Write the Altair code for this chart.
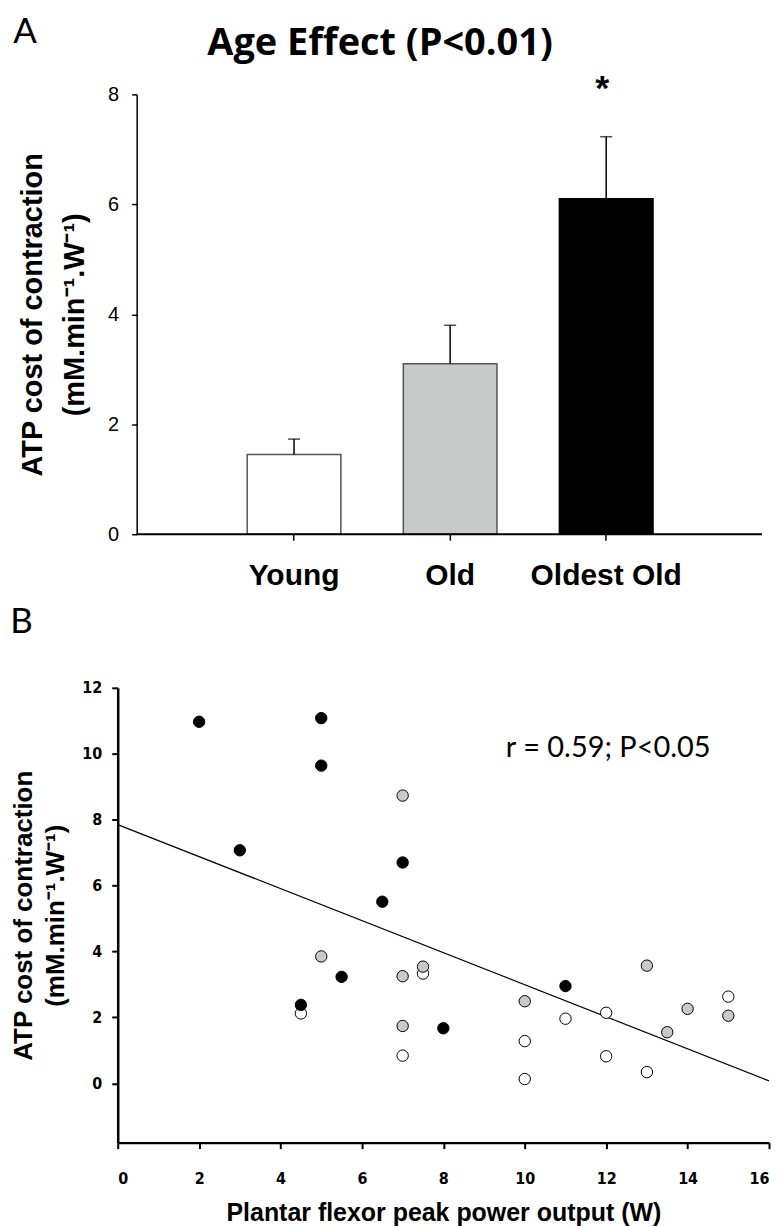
import altair as alt
import pandas as pd

# ---------------- data ----------------
groups = ["Young", "Old", "Oldest Old"]
atp_mean = [1.45, 3.10, 6.10]
atp_sem = [0.28, 0.70, 1.13]
star_marks = ["", "", "*"]
bar_fills = ["#ffffff", "#c8c9c9", "#000000"]
bar_strokes = ["#555555", "#555555", "#000000"]

power_oldest = [2, 5, 5, 3, 7, 6.5, 5.5, 4.5, 8, 11]
atp_oldest = [10.97, 11.08, 9.64, 7.07, 6.70, 5.51, 3.23, 2.38, 1.67, 2.95]
power_old = [7, 5, 7.5, 7, 7, 10, 13, 13.5, 14, 15]
atp_old = [8.73, 3.85, 3.54, 3.25, 1.74, 2.49, 3.57, 1.55, 2.26, 2.05]
power_young = [7.5, 4.5, 7, 10, 10, 11, 12, 12, 13, 15]
atp_young = [3.33, 2.12, 0.84, 1.28, 0.13, 1.96, 2.14, 0.82, 0.34, 2.63]
point_fills = ["#ffffff", "#c8c8c8", "#000000"]

fit_intercept = 7.85
fit_slope = -0.486
fit_x = [0, 16]

ann_text = "r = 0.59; P<0.05"
ann_x, ann_y = 12.05, 10.18

ytitle = ["ATP cost of contraction", "(mM.min\u207b\u00b9.W\u207b\u00b9)"]

ARIAL = "Liberation Sans"
NARROW = "Liberation Sans Narrow, DejaVu Sans Condensed, Liberation Sans"
CAL = "Lato"

# ---------------- panel A ----------------
W_A, H_A = 646, 441
dfA = pd.DataFrame({
    "group": groups,
    "mean": atp_mean,
    "upper": [m + s for m, s in zip(atp_mean, atp_sem)],
    "star": star_marks,
})

xsA = alt.Scale(domain=groups, paddingInner=0.4, paddingOuter=0.764, align=0.543)
ysA = alt.Scale(domain=[0, 8], nice=False)

axA_x = alt.Axis(title=None, domain=False, ticks=True, tickSize=6, tickColor="black",
                 tickWidth=1.5, labelFont=ARIAL, labelFontSize=30, labelFontWeight="bold",
                 labelColor="black", labelPadding=20, labelAngle=0)
axA_y = alt.Axis(title=ytitle, values=[0, 2, 4, 6, 8], format="d", offset=-19, grid=False,
                 domainColor="black", domainWidth=1.5, tickColor="black", tickWidth=1.5,
                 tickSize=5, labelFont=ARIAL, labelFontSize=20, labelColor="black",
                 labelPadding=13, titleFont=ARIAL, titleFontSize=29, titleFontWeight="bold",
                 titleColor="black", titleLineHeight=42, titlePadding=18)

baseA = alt.Chart(dfA).encode(
    x=alt.X("group:N", scale=xsA, axis=axA_x, sort=groups)
)
bars = baseA.mark_bar(strokeWidth=1.5).encode(
    y=alt.Y("mean:Q", scale=ysA, axis=axA_y),
    fill=alt.Fill("group:N", scale=alt.Scale(domain=groups, range=bar_fills), legend=None),
    stroke=alt.Stroke("group:N", scale=alt.Scale(domain=groups, range=bar_strokes), legend=None),
)
err = baseA.mark_rule(color="black", strokeWidth=1.5).encode(y="mean:Q", y2="upper:Q")
cap = baseA.mark_tick(color="black", size=12, thickness=1.5).encode(y="upper:Q")
star = baseA.transform_filter("datum.star != ''").mark_text(
    font=ARIAL, fontSize=36, fontWeight="bold", color="black", baseline="middle", dy=-48, dx=-4
).encode(y="upper:Q", text="star:N")

axis_line = alt.Chart(pd.DataFrame({"t": [""]})).mark_rule(color="black", strokeWidth=2).encode(
    y=alt.datum(0), x=alt.value(19), x2=alt.value(W_A)
)
titleA = alt.Chart(pd.DataFrame({"t": ["Age Effect (P<0.01)"]})).mark_text(
    font="Open Sans", fontSize=38, fontWeight="bold", color="black", align="center",
    baseline="alphabetic"
).encode(x=alt.value(380 - 117), y=alt.value(57 - 96), text="t:N")
letterA = alt.Chart(pd.DataFrame({"t": ["A"]})).mark_text(
    font=CAL, fontSize=35, color="black", align="center", baseline="alphabetic"
).encode(x=alt.value(24 - 117), y=alt.value(-52), text="t:N")

panelA = alt.layer(bars, err, cap, star, axis_line, titleA, letterA).properties(
    width=W_A, height=H_A
)

# ---------------- panel B ----------------
W_B, H_B = 653, 456
dfB = pd.DataFrame({
    "power": power_young + power_old + power_oldest,
    "atp": atp_young + atp_old + atp_oldest,
    "group": ["Young"] * len(power_young) + ["Old"] * len(power_old)
             + ["Oldest Old"] * len(power_oldest),
})
dfFit = pd.DataFrame({"power": fit_x, "atp": [fit_intercept + fit_slope * v for v in fit_x]})

xsB = alt.Scale(domain=[0, 16], nice=False)
ysB = alt.Scale(domain=[-1.8, 12], nice=False)
axB_x = alt.Axis(title="Plantar flexor peak power output (W)", values=list(range(0, 17, 2)),
                 grid=False, domainColor="black", domainWidth=2.5, tickColor="black",
                 tickWidth=2, tickSize=6, labelFont=NARROW, labelFontSize=16,
                 labelFontWeight="bold", labelColor="black", labelPadding=22,
                 titleFont=ARIAL, titleFontSize=25, titleFontWeight="bold",
                 titleColor="black", titlePadding=14)
axB_y = alt.Axis(title=ytitle, values=list(range(0, 13, 2)), grid=False,
                 domainColor="black", domainWidth=2.5, tickColor="black", tickWidth=2,
                 tickSize=6, labelFont=NARROW, labelFontSize=16, labelFontWeight="bold",
                 labelColor="black", labelPadding=10, titleFont=ARIAL, titleFontSize=26,
                 titleFontWeight="bold", titleColor="black", titleLineHeight=32,
                 titlePadding=13)

pts = alt.Chart(dfB).mark_circle(size=130, stroke="black", strokeWidth=1, opacity=1).encode(
    x=alt.X("power:Q", scale=xsB, axis=axB_x),
    y=alt.Y("atp:Q", scale=ysB, axis=axB_y),
    fill=alt.Fill("group:N", scale=alt.Scale(domain=groups, range=point_fills), legend=None),
)
fit = alt.Chart(dfFit).mark_line(color="black", strokeWidth=1.2).encode(
    x=alt.X("power:Q", scale=xsB), y=alt.Y("atp:Q", scale=ysB)
)
ann = alt.Chart(pd.DataFrame({"x": [ann_x], "y": [ann_y], "t": [ann_text]})).mark_text(
    font=CAL, fontSize=29, color="black", align="center", baseline="middle"
).encode(x=alt.X("x:Q", scale=xsB), y=alt.Y("y:Q", scale=ysB), text="t:N")
letterB = alt.Chart(pd.DataFrame({"t": ["B"]})).mark_text(
    font=CAL, fontSize=35, color="black", align="center", baseline="alphabetic"
).encode(x=alt.value(20.5 - 117), y=alt.value(632 - 687), text="t:N")

panelB = alt.layer(fit, pts, ann, letterB).properties(width=W_B, height=H_B)

chart = alt.vconcat(panelA, panelB, spacing=15).properties(
    padding={"left": 2, "top": 5, "right": 0, "bottom": 0}, background="white"
).configure_view(stroke=None)

chart.save("out.html", embed_options={"renderer": "svg", "actions": False})
